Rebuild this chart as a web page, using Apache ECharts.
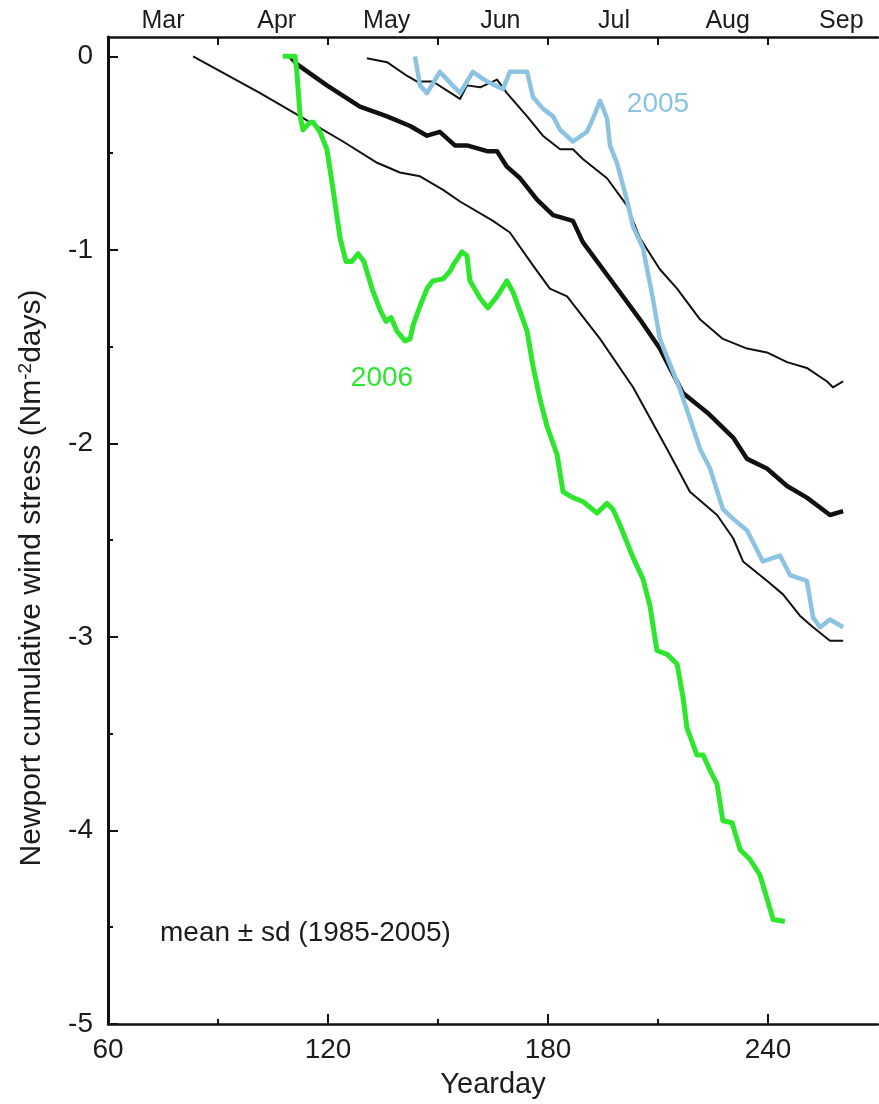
<!DOCTYPE html>
<html>
<head>
<meta charset="utf-8">
<script src="https://cdn.jsdelivr.net/npm/echarts@6/dist/echarts.min.js"></script>
<style>
html,body{margin:0;padding:0;background:#fff;}
#chart{width:879px;height:1104px;}
</style>
</head>
<body>
<div id="chart"></div>
<script>
// ---- Data (yearday, cumulative wind stress N m^-2 days) ----
const meanDays = [109.6,111.5,119.7,128.7,136.1,142.4,147.0,150.5,154.6,157.9,163.4,166.1,168.8,172.4,177.0,181.4,186.8,189.5,197.7,205.1,210.5,216.8,223.4,230.5,234.3,239.7,245.2,250.6,256.9,260.5];
const meanVals = [0,-0.04,-0.15,-0.26,-0.31,-0.36,-0.41,-0.39,-0.46,-0.46,-0.49,-0.49,-0.57,-0.63,-0.74,-0.82,-0.85,-0.96,-1.17,-1.36,-1.51,-1.74,-1.84,-1.97,-2.08,-2.13,-2.22,-2.28,-2.37,-2.35];

const upperDays = [130.6,136.1,141.5,144.3,148.6,156.0,157.9,161.5,166.1,168.8,174.3,178.6,183.3,186.8,189.5,196.1,201.5,205.1,210.5,215.2,221.5,227.7,234.3,239.7,245.2,250.6,256.1,257.7,260.5];
const upperVals = [-0.01,-0.03,-0.10,-0.13,-0.13,-0.22,-0.15,-0.16,-0.12,-0.19,-0.31,-0.41,-0.48,-0.48,-0.53,-0.63,-0.77,-0.94,-1.10,-1.20,-1.36,-1.46,-1.51,-1.53,-1.58,-1.61,-1.68,-1.71,-1.68];

const lowerDays = [83.2,101.5,112.4,124.1,133.4,139.6,145.1,151.4,156.0,165.0,169.6,175.9,180.5,185.2,194.2,203.2,212.5,218.7,226.1,230.5,233.2,239.7,244.1,248.7,252.3,256.9,260.5];
const lowerVals = [0,-0.19,-0.31,-0.44,-0.55,-0.60,-0.62,-0.69,-0.75,-0.85,-0.91,-1.08,-1.20,-1.24,-1.46,-1.71,-2.03,-2.25,-2.37,-2.49,-2.61,-2.71,-2.78,-2.89,-2.95,-3.02,-3.02];

const y2005Days = [143.7,145.1,147.0,150.5,156.0,159.5,163.4,167.7,169.6,174.3,175.9,178.6,181.4,183.3,186.8,190.6,192.3,194.2,196.1,196.9,198.8,201.5,203.2,205.9,208.6,210.5,214.1,216.0,221.5,224.2,227.7,230.5,234.3,238.6,243.3,246.0,250.6,252.3,254.2,256.9,260.5];
const y2005Vals = [0,-0.15,-0.19,-0.08,-0.19,-0.08,-0.13,-0.17,-0.08,-0.08,-0.21,-0.27,-0.31,-0.38,-0.44,-0.39,-0.32,-0.23,-0.32,-0.46,-0.55,-0.74,-0.88,-0.99,-1.25,-1.46,-1.63,-1.72,-2.03,-2.13,-2.34,-2.39,-2.45,-2.61,-2.58,-2.68,-2.71,-2.90,-2.95,-2.91,-2.95];

const y2006Days = [107.7,111.0,111.5,112.4,113.2,115.1,115.9,117.8,119.7,121.4,123.3,124.9,126.5,128.2,129.8,132.0,134.2,135.8,137.2,138.8,141.0,142.4,143.2,145.1,147.0,148.6,151.4,153.3,154.1,156.5,157.9,158.7,161.5,163.6,166.1,168.8,170.5,174.3,175.9,177.8,179.7,182.5,184.1,186.8,189.5,193.4,196.1,197.7,199.6,203.2,205.9,207.8,209.7,212.5,215.2,216.8,217.9,220.6,222.3,224.2,226.1,227.7,230.2,232.4,235.1,237.8,239.7,241.4,244.6];
const y2006Vals = [0,0,-0.08,-0.31,-0.38,-0.34,-0.34,-0.39,-0.48,-0.69,-0.94,-1.06,-1.06,-1.02,-1.06,-1.20,-1.31,-1.37,-1.35,-1.42,-1.47,-1.46,-1.39,-1.29,-1.20,-1.16,-1.15,-1.11,-1.08,-1.01,-1.03,-1.16,-1.25,-1.30,-1.24,-1.16,-1.22,-1.42,-1.60,-1.77,-1.91,-2.06,-2.25,-2.28,-2.30,-2.36,-2.31,-2.34,-2.42,-2.59,-2.70,-2.84,-3.07,-3.09,-3.14,-3.31,-3.47,-3.61,-3.61,-3.69,-3.76,-3.95,-3.96,-4.10,-4.15,-4.23,-4.35,-4.46,-4.47];

// ---- Axis ticks / labels ----
const xLabelValues = [60, 120, 180, 240];
const xMajorTicks = [120, 180, 240];
const xMinorTicks = [90, 150, 210];
const monthTicks = [90, 120, 150, 180, 210, 240];
const monthNames = ['Mar', 'Apr', 'May', 'Jun', 'Jul', 'Aug', 'Sep'];
const monthCentres = [75, 106, 136, 167, 198, 229, 260];
const yLabelValues = [0, -1, -2, -3, -4, -5];
const yMinorTicks = [-0.5, -1.5, -2.5, -3.5, -4.5];

const zip = (a, b) => a.map((d, i) => [d, b[i]]);
const FONT = "'Liberation Sans', Arial, Helvetica, sans-serif";
const TXT = '#1c1c1c';
const X_MIN = 60, X_MAX = 270, Y_MIN = -5, Y_MAX = 0.1;

const chart = echarts.init(document.getElementById('chart'), null, {renderer: 'canvas'});

const baseX = {type: 'value', min: X_MIN, max: X_MAX, splitLine: {show: false}};
const baseY = {type: 'value', min: Y_MIN, max: Y_MAX, splitLine: {show: false}};

const option = {
  backgroundColor: '#fff',
  animation: false,
  grid: {left: 108, right: 1, top: 37, bottom: 77, containLabel: false},
  xAxis: [
    Object.assign({}, baseX, {
      position: 'bottom',
      name: 'Yearday', nameLocation: 'middle', nameGap: 46,
      nameTextStyle: {fontFamily: FONT, fontSize: 29, color: TXT},
      axisLine: {show: true, onZero: false, lineStyle: {color: '#111', width: 2.5}},
      axisTick: {show: true, inside: true, length: 10, customValues: xMajorTicks, lineStyle: {color: '#111', width: 2}},
      axisLabel: {show: true, customValues: xLabelValues, margin: 12, fontFamily: FONT, fontSize: 28, color: TXT}
    }),
    Object.assign({}, baseX, {
      position: 'bottom',
      axisLine: {show: false, onZero: false},
      axisTick: {show: true, inside: true, length: 5, customValues: xMinorTicks, lineStyle: {color: '#111', width: 2}},
      axisLabel: {show: false}
    }),
    Object.assign({}, baseX, {
      position: 'top',
      axisLine: {show: true, onZero: false, lineStyle: {color: '#111', width: 2.5}},
      axisTick: {show: true, inside: true, length: 8, customValues: monthTicks, lineStyle: {color: '#111', width: 2}},
      axisLabel: {show: true, customValues: monthCentres, margin: 3, fontFamily: FONT, fontSize: 25, color: TXT,
        formatter: v => { const i = monthCentres.indexOf(v); return i >= 0 ? monthNames[i] : ''; }}
    })
  ],
  yAxis: [
    Object.assign({}, baseY, {
      position: 'left',
      axisLine: {show: true, onZero: false, lineStyle: {color: '#111', width: 3}},
      axisTick: {show: true, inside: true, length: 10, customValues: yLabelValues, lineStyle: {color: '#111', width: 2}},
      axisLabel: {show: true, customValues: yLabelValues, margin: 15, fontFamily: FONT, fontSize: 28, color: TXT}
    }),
    Object.assign({}, baseY, {
      position: 'left',
      axisLine: {show: false, onZero: false},
      axisTick: {show: true, inside: true, length: 5, customValues: yMinorTicks, lineStyle: {color: '#111', width: 2}},
      axisLabel: {show: false}
    })
  ],
  series: [
    {name: 'mean - sd', type: 'line', data: zip(lowerDays, lowerVals), showSymbol: false, symbol: 'none',
      lineStyle: {color: '#111', width: 2, join: 'round'}, z: 3},
    {name: 'mean + sd', type: 'line', data: zip(upperDays, upperVals), showSymbol: false, symbol: 'none',
      lineStyle: {color: '#111', width: 2, join: 'round'}, z: 3},
    {name: 'mean', type: 'line', data: zip(meanDays, meanVals), showSymbol: false, symbol: 'none',
      lineStyle: {color: '#111', width: 4.5, join: 'round'}, z: 4},
    {name: '2005', type: 'line', data: zip(y2005Days, y2005Vals), showSymbol: false, symbol: 'none',
      lineStyle: {color: '#8cc3e2', width: 4.5, join: 'round'}, z: 5},
    {name: '2006', type: 'line', data: zip(y2006Days, y2006Vals), showSymbol: false, symbol: 'none',
      lineStyle: {color: '#2ee62e', width: 5, join: 'round'}, z: 6}
  ],
  graphic: [
    {type: 'text', x: 32, y: 578, rotation: Math.PI / 2,
      style: {text: 'Newport cumulative wind stress (Nm{sup|-2}days)', fontFamily: FONT, fontSize: 30, fill: TXT,
        align: 'center', verticalAlign: 'middle',
        rich: {sup: {fontFamily: FONT, fontSize: 19, fill: TXT, verticalAlign: 'top', padding: [0, 0, 12, 0]}}}},
    {type: 'text', x: 658, y: 104, style: {text: '2005', fontFamily: FONT, fontSize: 28, fill: '#8cc3e2', align: 'center', verticalAlign: 'middle'}},
    {type: 'text', x: 382, y: 378, style: {text: '2006', fontFamily: FONT, fontSize: 28, fill: '#2ee62e', align: 'center', verticalAlign: 'middle'}},
    {type: 'text', x: 160, y: 933, style: {text: 'mean \u00b1 sd (1985-2005)', fontFamily: FONT, fontSize: 28, fill: TXT, align: 'left', verticalAlign: 'middle'}}
  ]
};
chart.setOption(option);
</script>
</body>
</html>
